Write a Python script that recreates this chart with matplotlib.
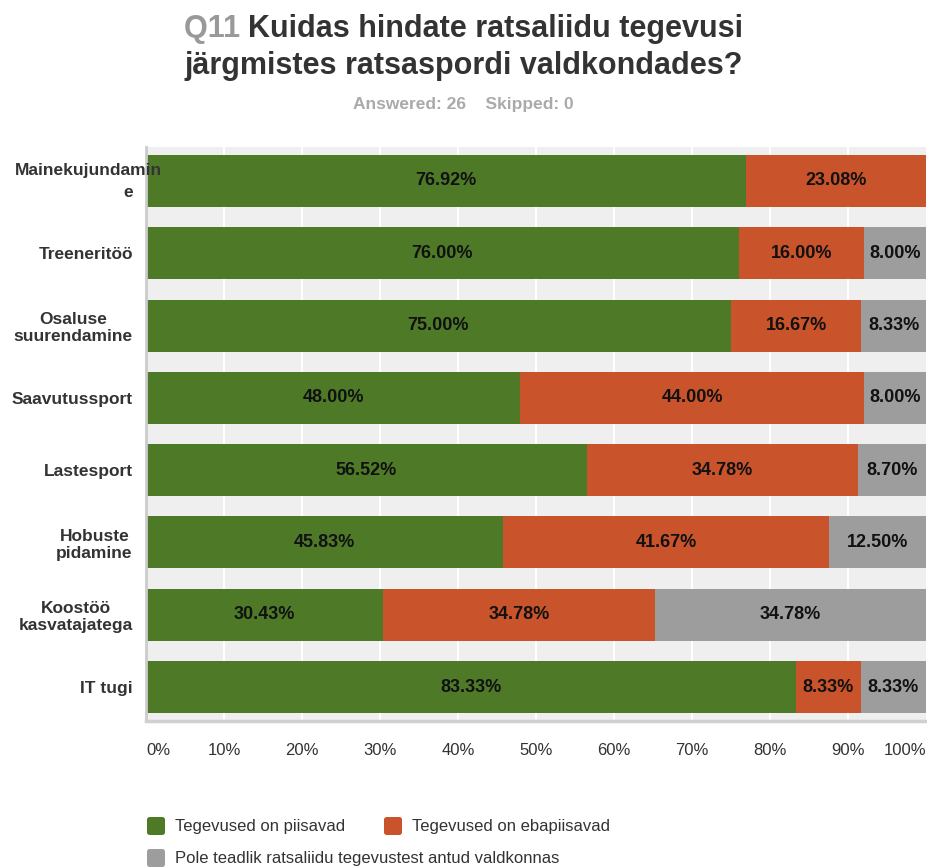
import numpy as np
import matplotlib
matplotlib.use("Agg")
import matplotlib.pyplot as plt
from matplotlib.patches import FancyBboxPatch
from matplotlib import transforms

# Data
categories = ["Mainekujundamine", "Treeneritöö", "Osaluse\nsuurendamine", "Saavutussport",
              "Lastesport", "Hobuste\npidamine", "Koostöö\nkasvatajatega", "IT tugi"]
piisavad = [76.92, 76.00, 75.00, 48.00, 56.52, 45.83, 30.43, 83.33]
ebapiisavad = [23.08, 16.00, 16.67, 44.00, 34.78, 41.67, 34.78, 8.33]
pole_teadlik = [0.00, 8.00, 8.33, 8.00, 8.70, 12.50, 34.78, 8.33]
series_names = ["Tegevused on piisavad", "Tegevused on ebapiisavad",
                "Pole teadlik ratsaliidu tegevustest antud valdkonnas"]
colors = ["#4e7a28", "#c9532a", "#9d9d9d"]
xticks = list(range(0, 101, 10))

font = ["Liberation Sans", "DejaVu Sans"]
W, H = 927, 868

fig = plt.figure(figsize=(9.27, 8.68), dpi=100)
ax = fig.add_axes([146 / W, 1 - 721 / H, 780 / W, 574 / H])
ax.set_facecolor("#efefef")

y = np.arange(len(categories))
left = np.zeros(len(categories))
for vals, col in zip([piisavad, ebapiisavad, pole_teadlik], colors):
    vals = np.array(vals)
    ax.barh(y, vals, left=left, height=0.72, color=col, edgecolor="none", zorder=2)
    for yi, (l, v) in enumerate(zip(left, vals)):
        if v > 0:
            ax.text(l + v / 2, yi, f"{v:.2f}%", ha="center", va="center",
                    fontsize=13, fontweight="bold", family=font, color="#111111", zorder=3)
    left += vals

ax.set_xlim(0, 100)
ax.set_ylim(len(categories) - 0.53, -0.47)
ax.set_xticks(xticks)
for x in xticks[1:-1]:
    ax.axvline(x, color="white", lw=1.5, zorder=1)

ax.set_xticklabels([f"{t}%" for t in xticks], family=font, fontsize=12, color="#333333")
for i, lab in enumerate(ax.get_xticklabels()):
    if i == 0:
        lab.set_ha("left")
    elif i == len(xticks) - 1:
        lab.set_ha("right")
ax.tick_params(axis="x", length=0, pad=16)

ax.set_yticks(y)
ylabels = [""] + categories[1:]
ax.set_yticklabels(ylabels, fontsize=12.5, fontweight="bold", family=font,
                   color="#333333", multialignment="center", linespacing=1.15)
ax.tick_params(axis="y", length=0, pad=9.5)

# wrapped first label that spills over the axis
tr = transforms.blended_transform_factory(fig.transFigure, ax.transData)
ax.text(15 / W, -0.14, "Mainekujundamin", transform=tr, ha="left", va="center",
        fontsize=12.5, fontweight="bold", family=font, color="#333333", zorder=5)
ax.text(133 / W, 0.16, "e", transform=tr, ha="right", va="center",
        fontsize=12.5, fontweight="bold", family=font, color="#333333", zorder=5)

for s in ["top", "right"]:
    ax.spines[s].set_visible(False)
ax.spines["left"].set_color("#cccccc")
ax.spines["left"].set_linewidth(2)
ax.spines["bottom"].set_color("#d0d0d0")
ax.spines["bottom"].set_linewidth(2.5)

# Title: "Q11" in gray followed by the question, centred as one line
renderer = fig.canvas.get_renderer()
tsize = 22
q = fig.text(0, 1 - 37 / H, "Q11 ", ha="left", va="baseline",
             fontsize=tsize, fontweight="bold", family=font, color="#999999")
t1 = fig.text(0, 1 - 37 / H, "Kuidas hindate ratsaliidu tegevusi", ha="left", va="baseline",
              fontsize=tsize, fontweight="bold", family=font, color="#333333")
wq = q.get_window_extent(renderer).width
w1 = t1.get_window_extent(renderer).width
x0 = (W - wq - w1) / 2
q.set_x(x0 / W)
t1.set_x((x0 + wq) / W)
fig.text(0.5, 1 - 74 / H, "järgmistes ratsaspordi valdkondades?", ha="center", va="baseline",
         fontsize=tsize, fontweight="bold", family=font, color="#333333")
fig.text(0.5, 1 - 105 / H, "Answered: 26    Skipped: 0", ha="center", va="center",
         fontsize=12.5, fontweight="bold", family=font, color="#aaaaaa")

# Legend
legend_items = [(146, 826, 0), (383, 826, 1), (146, 858, 2)]
for lx, ly, k in legend_items:
    fig.patches.append(FancyBboxPatch(((lx + 1) / W, 1 - (ly + 9) / H), 18 / W, 18 / H,
                                      boxstyle="round,pad=0,rounding_size=0.003",
                                      transform=fig.transFigure, facecolor=colors[k],
                                      edgecolor="none"))
    fig.text((lx + 29) / W, 1 - ly / H, series_names[k], ha="left", va="center",
             fontsize=12, family=font, color="#333333")

fig.savefig("out.png", dpi=100)
